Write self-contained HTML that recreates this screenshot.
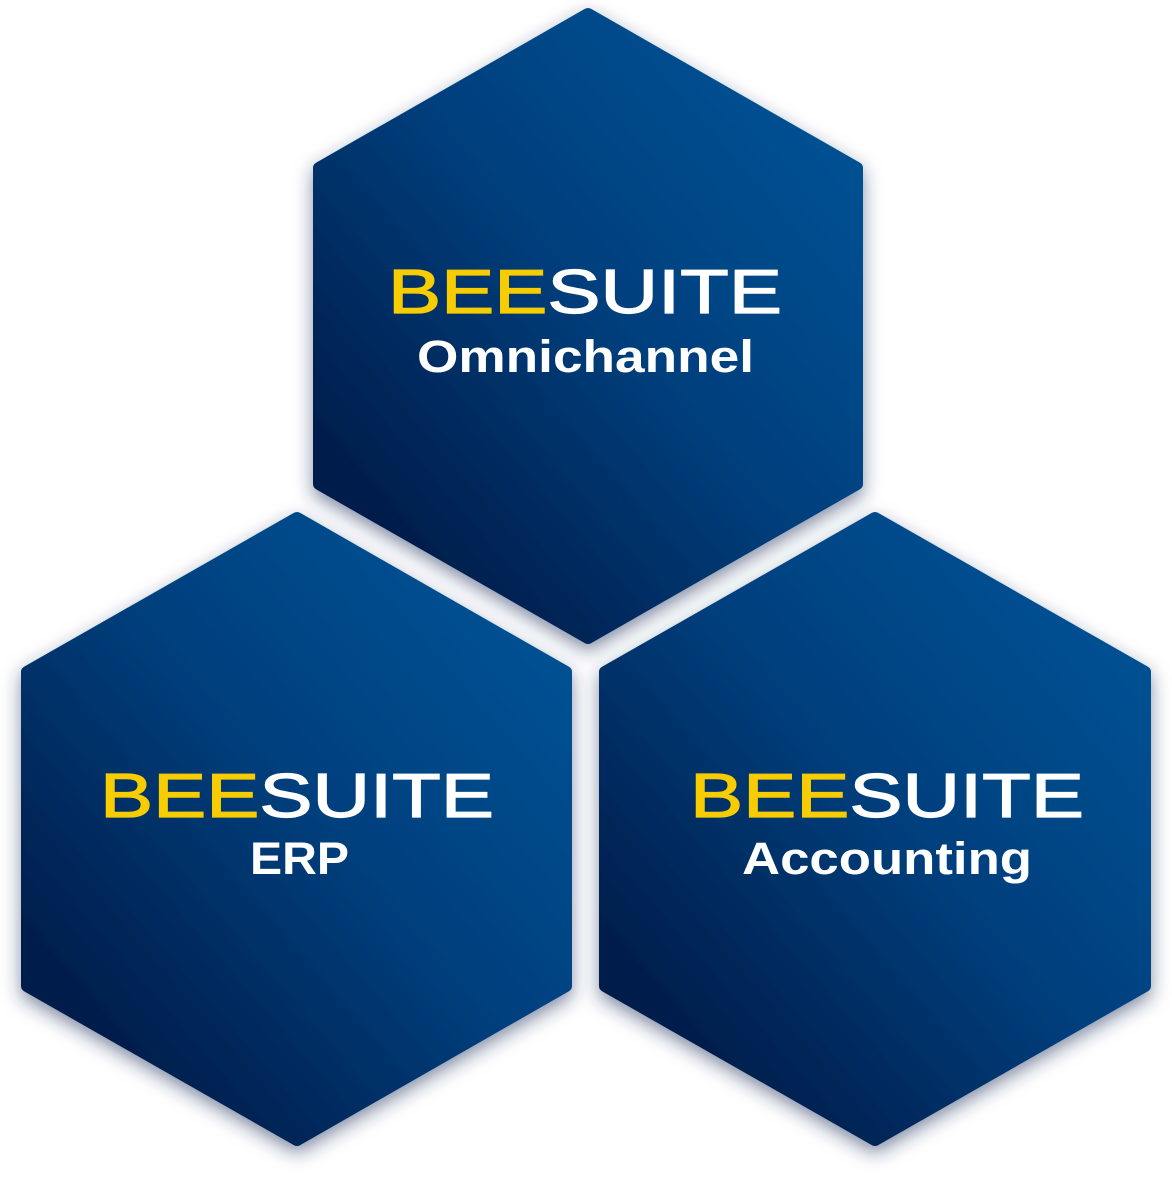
<!DOCTYPE html>
<html><head><style>
html,body{margin:0;padding:0;background:#fff;}
svg{display:block;}
</style></head><body>
<svg width="1172" height="1178" viewBox="0 0 1172 1178" xmlns="http://www.w3.org/2000/svg">
<defs>
<linearGradient id="g" x1="0.85" y1="0.15" x2="0.15" y2="0.85">
<stop offset="0" stop-color="#044f91"/>
<stop offset="0.45" stop-color="#033f7d"/>
<stop offset="1" stop-color="#011d4b"/>
</linearGradient>
<filter id="sh" x="-10%" y="-10%" width="120%" height="125%">
<feDropShadow dx="0" dy="7" stdDeviation="9" flood-color="#1a2d5c" flood-opacity="0.55"/>
</filter>
</defs>
<g stroke-linejoin="round" stroke-width="12" filter="url(#sh)">
<polygon points="588,14 857,168 857,484 588,638 319,484 319,168" fill="url(#g)" stroke="url(#g)"/>
<polygon points="297,518 566,672 566,986 297,1140 27,986 27,672" fill="url(#g)" stroke="url(#g)"/>
<polygon points="875,518 1145,672 1145,986 875,1140 605,986 605,672" fill="url(#g)" stroke="url(#g)"/>
</g>
<g font-family="Liberation Sans, sans-serif" font-size="62" stroke-width="1.2">
<text x="388" y="313" textLength="394" lengthAdjust="spacingAndGlyphs"><tspan fill="#f7cc00" stroke="#f7cc00">BEE</tspan><tspan fill="#fff" stroke="#fff">SUITE</tspan></text>
<text x="100" y="817" textLength="394" lengthAdjust="spacingAndGlyphs"><tspan fill="#f7cc00" stroke="#f7cc00">BEE</tspan><tspan fill="#fff" stroke="#fff">SUITE</tspan></text>
<text x="690" y="817" textLength="394" lengthAdjust="spacingAndGlyphs"><tspan fill="#f7cc00" stroke="#f7cc00">BEE</tspan><tspan fill="#fff" stroke="#fff">SUITE</tspan></text>
</g>
<g font-family="Liberation Sans, sans-serif" font-size="45" font-weight="bold" fill="#fff">
<text x="417" y="372" textLength="337" lengthAdjust="spacingAndGlyphs">Omnichannel</text>
<text x="250" y="874" textLength="99" lengthAdjust="spacingAndGlyphs">ERP</text>
<text x="742" y="874" textLength="290" lengthAdjust="spacingAndGlyphs">Accounting</text>
</g>
</svg>
</body></html>
